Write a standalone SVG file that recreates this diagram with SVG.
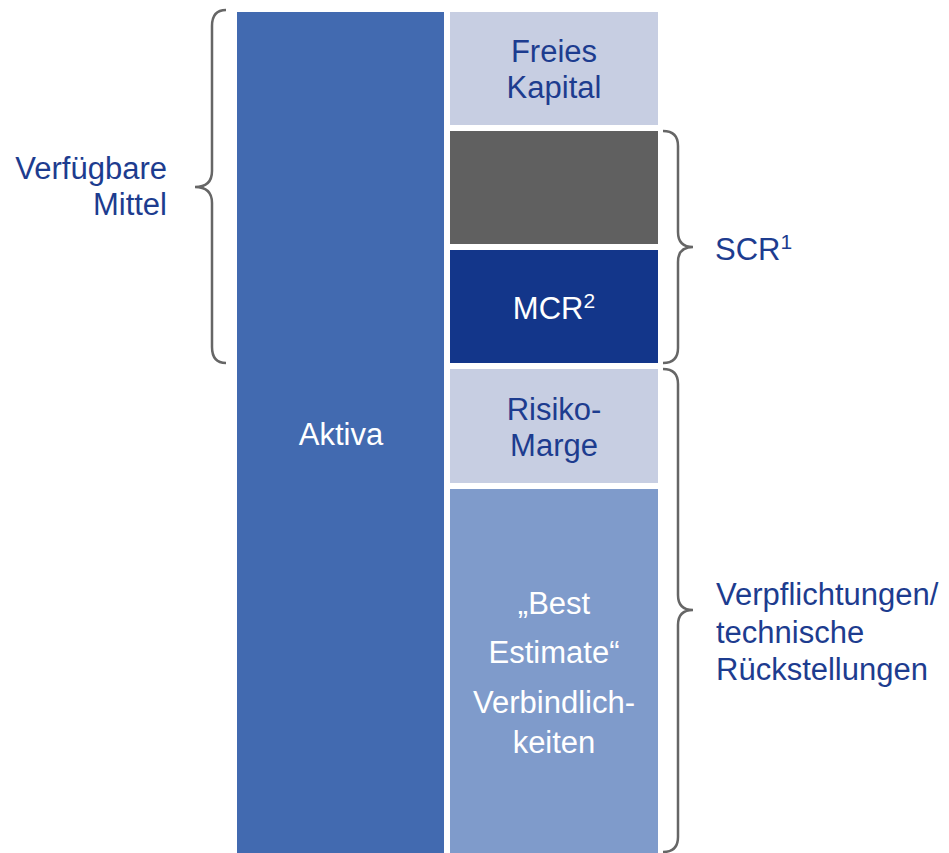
<svg xmlns="http://www.w3.org/2000/svg" width="949" height="853" viewBox="0 0 949 853">
<style>
text{font-family:"Liberation Sans",Arial,sans-serif;font-size:31px}
.d{fill:#1D3C8F}
.w{fill:#FFFFFF}
.c{text-anchor:middle}
.brace{fill:none;stroke:#666666;stroke-width:2.5}
</style>
<rect width="949" height="853" fill="#FFFFFF"/>
<g id="aktiva">
<rect x="237" y="12" width="207" height="841" fill="#426AB0"/>
<text class="w c" x="341" y="445">Aktiva</text>
</g>
<g id="freies-kapital">
<rect x="450" y="12" width="208" height="113" fill="#C7CEE2"/>
<text class="d c" x="554" y="62">Freies</text>
<text class="d c" x="554" y="98">Kapital</text>
</g>
<g id="scr-box">
<rect x="450" y="131" width="208" height="113" fill="#606060"/>
</g>
<g id="mcr">
<rect x="450" y="250" width="208" height="113" fill="#13368A"/>
<text class="w c" x="554" y="319">MCR<tspan font-size="21" dy="-11">2</tspan></text>
</g>
<g id="risikomarge">
<rect x="450" y="369" width="208" height="114" fill="#C7CEE2"/>
<text class="d c" x="554" y="420">Risiko-</text>
<text class="d c" x="554" y="456">Marge</text>
</g>
<g id="best-estimate">
<rect x="450" y="489" width="208" height="364" fill="#7F9BCB"/>
<text class="w c" x="554" y="614">„Best </text>
<text class="w c" x="554" y="663">Estimate“</text>
<text class="w c" x="554" y="713">Verbindlich-</text>
<text class="w c" x="554" y="753">keiten</text>
</g>
<g id="connectors">
<path class="brace" d="M226,10 C216,10 212,16 212,26 L212,171 C212,182 206,187 195,187 C206,187 212,192 212,203 L212,347 C212,357 216,363 226,363"/>
<path class="brace" d="M663,131 C673,131 678,136 678,146 L678,232 C678,242 683,247 693,247 C683,247 678,252 678,262 L678,348 C678,358 673,363 663,363"/>
<path class="brace" d="M663,369 C673,369 678,374 678,384 L678,595 C678,605 683,610 693,610 C683,610 678,615 678,625 L678,837 C678,847 673,852 663,852"/>
</g>
<g id="label-verfuegbare">
<text class="d" x="167" y="179" text-anchor="end">Verfügbare</text>
<text class="d" x="167" y="215" text-anchor="end">Mittel</text>
</g>
<g id="label-scr">
<text class="d" x="715" y="260">SCR<tspan font-size="21" dy="-11">1</tspan></text>
</g>
<g id="label-verpflichtungen">
<text class="d" x="716" y="605">Verpflichtungen/</text>
<text class="d" x="716" y="643">technische</text>
<text class="d" x="716" y="680">Rückstellungen</text>
</g>
</svg>
